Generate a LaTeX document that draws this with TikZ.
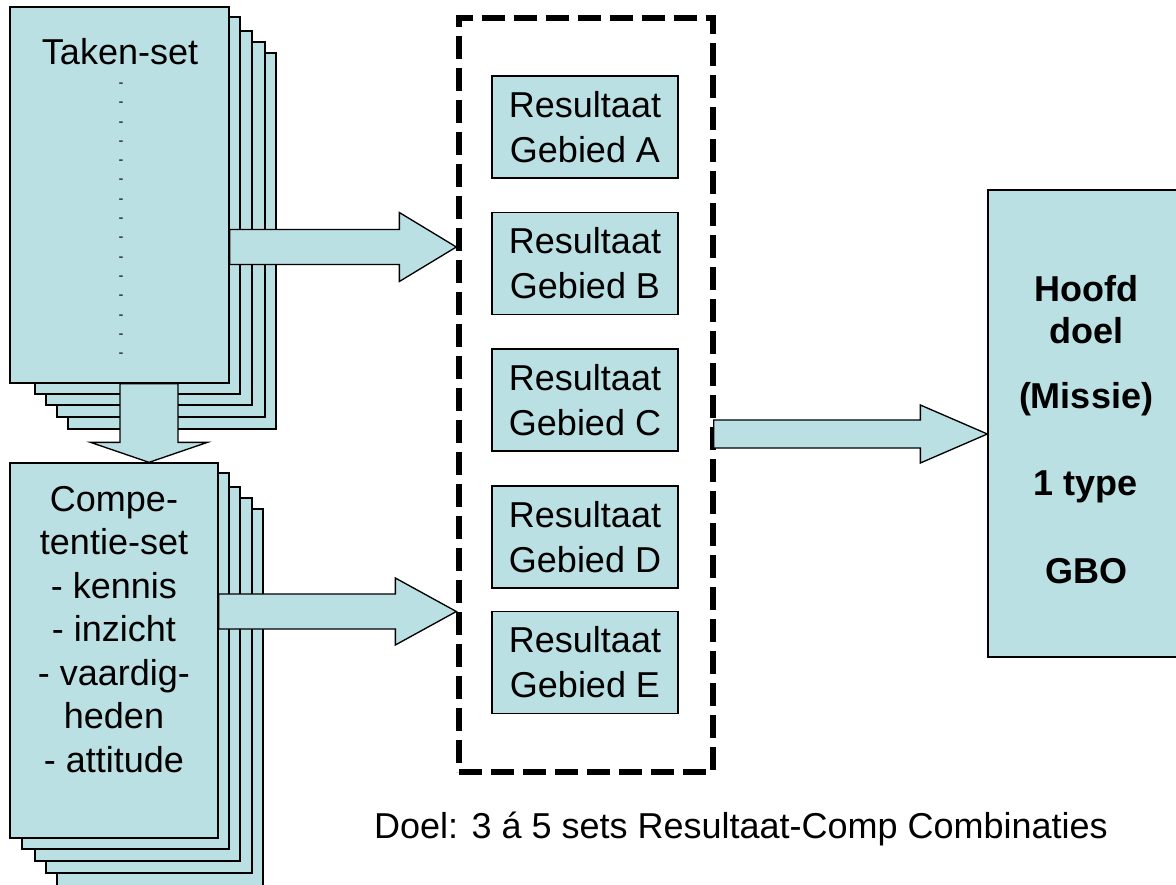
\documentclass[tikz,border=0pt]{standalone}
\usepackage{fontspec}
\setmainfont{Liberation Sans}
\usetikzlibrary{calc}
\definecolor{cardblue}{RGB}{187,224,227}
\tikzset{
  card/.style={draw, fill=cardblue, line width=1pt, inner sep=0pt},
  fatarrow/.style={draw, fill=cardblue, line width=1pt, line join=miter},
  bigtext/.style={font=\fontsize{27}{32.6}\selectfont, align=center, inner sep=0pt},
  result/.style={card, bigtext, minimum width=139.5pt, minimum height=76.5pt, font=\fontsize{27}{33.75}\selectfont},
}
\begin{document}
\begin{tikzpicture}[x=0.75pt,y=-0.75pt]
\useasboundingbox (0,0) rectangle (1176,884);

% sheets behind the task set
\draw[card] (68,53) rectangle (276,429);
\draw[card] (57,42) rectangle (265,417);
\draw[card] (46,31) rectangle (252,405);
\draw[card] (35,17) rectangle (240,394);
% sheets behind the competence set
\draw[card] (57,509) rectangle (263,890);
\draw[card] (46,498) rectangle (252,873);
\draw[card] (35,487) rectangle (240,861);
\draw[card] (22,473) rectangle (229,849);

\node[card, minimum width=164.25pt, minimum height=282pt] (taken) at (119.5,195) {};
\node[card, minimum width=156pt, minimum height=281.25pt] (comp) at (114,650.5) {};
\node[draw, line width=4pt, dash pattern=on 17pt off 7pt, minimum width=190.5pt, minimum height=565.5pt] (frame) at (586,395) {};
\node[card, minimum width=153pt, minimum height=350.25pt] (hoofd) at (1090,423.5) {};

% block arrows
\coordinate (s1) at ($(taken.east)+(0,52)$);
\coordinate (t1) at (frame.west |- s1);
\draw[fatarrow] ($(s1)+(0,-17.5)$) -- ($(t1)+(-57,-17.5)$) -- ($(t1)+(-57,-34.5)$) -- (t1)
  -- ($(t1)+(-57,34.5)$) -- ($(t1)+(-57,17.5)$) -- ($(s1)+(0,17.5)$) -- cycle;
\coordinate (s2) at ($(comp.east)+(0,-39)$);
\coordinate (t2) at (frame.west |- s2);
\draw[fatarrow] ($(s2)+(0,-17.5)$) -- ($(t2)+(-61,-17.5)$) -- ($(t2)+(-61,-33.5)$) -- (t2)
  -- ($(t2)+(-61,33.5)$) -- ($(t2)+(-61,17.5)$) -- ($(s2)+(0,17.5)$) -- cycle;
\coordinate (s3) at ($(frame.east)+(-2,39)$);
\coordinate (t3) at (hoofd.west |- s3);
\draw[fatarrow] ($(s3)+(0,-14)$) -- ($(t3)+(-67,-14)$) -- ($(t3)+(-67,-29)$) -- (t3)
  -- ($(t3)+(-67,29)$) -- ($(t3)+(-67,14)$) -- ($(s3)+(0,14)$) -- cycle;
\coordinate (s4) at ($(taken.south)+(29.5,0)$);
\coordinate (t4) at (s4 |- comp.north);
\draw[fatarrow] ($(s4)+(-29,0)$) -- ($(t4)+(-29,-20)$) -- ($(t4)+(-58.5,-20)$) -- (t4)
  -- ($(t4)+(58.5,-20)$) -- ($(t4)+(29,-20)$) -- ($(s4)+(29,0)$) -- cycle;

% texts
\node[bigtext, anchor=base] (takenlbl) at (120,65) {Taken-set};
\foreach \k in {0,...,14}
  \node[font=\fontsize{11}{13}\selectfont, inner sep=0pt, anchor=base] (dash\k) at (121,87.5+19.3*\k) {-};
\node[bigtext, anchor=north] (complbl) at (114,486) {Compe-\\tentie-set\\- kennis\\- inzicht\\- vaardig-\\heden\\- attitude};

\node[result] (resA) at (585,127) {Resultaat\\Gebied A};
\node[result] (resB) at (585,263.5) {Resultaat\\Gebied B};
\node[result] (resC) at (585,400) {Resultaat\\Gebied C};
\node[result] (resD) at (585,537) {Resultaat\\Gebied D};
\node[result] (resE) at (585,662.5) {Resultaat\\Gebied E};

\node[align=center, inner sep=0pt, anchor=north, font=\bfseries\fontsize{27}{31.5}\selectfont] (hoofdlbl) at (1086,275)
  {Hoofd\\doel\\[17.25pt](Missie)\\[33.75pt]1 type\\[34.5pt]GBO};

\node[bigtext, anchor=base] (doel) at (741,838) {Doel: 3 á 5 sets Resultaat-Comp Combinaties};
\end{tikzpicture}
\end{document}
